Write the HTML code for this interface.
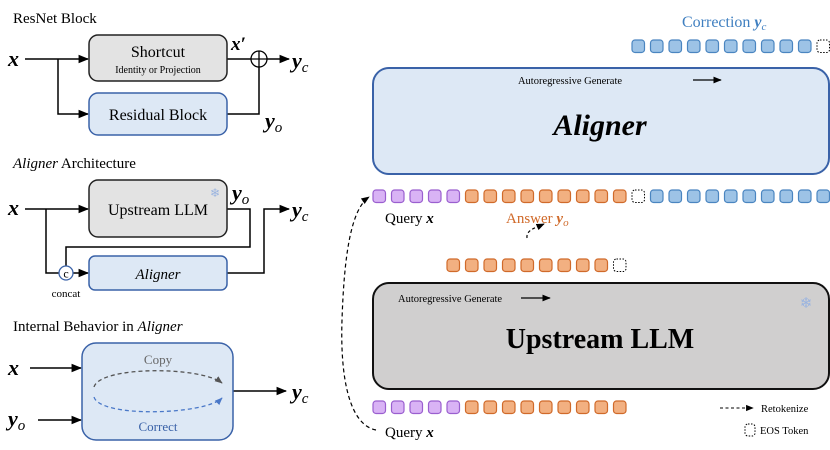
<!DOCTYPE html>
<html><head><meta charset="utf-8"><style>
html,body{margin:0;padding:0;background:#fff;}
svg{display:block;font-family:"Liberation Serif",serif;}
</style></head><body>
<svg id="s" width="830" height="450" viewBox="0 0 830 450" xmlns="http://www.w3.org/2000/svg">
<defs>
<marker id="a" viewBox="0 0 10 10" refX="9" refY="5" markerWidth="7" markerHeight="7" orient="auto"><path d="M0,1 L10,5 L0,9 z" fill="#000"/></marker>
<marker id="ag" viewBox="0 0 10 10" refX="9" refY="5" markerWidth="6" markerHeight="6" orient="auto"><path d="M0,1 L10,5 L0,9 z" fill="#555"/></marker>
<marker id="ab" viewBox="0 0 10 10" refX="9" refY="5" markerWidth="6" markerHeight="6" orient="auto"><path d="M0,1 L10,5 L0,9 z" fill="#4a78c8"/></marker>
</defs>
<g stroke="#000" stroke-width="1.5" fill="none">
<path d="M25,59 H88" marker-end="url(#a)"/>
<path d="M58,59 V114 H88" marker-end="url(#a)"/>
<path d="M227,59 H251"/>
<path d="M267,59 H289" marker-end="url(#a)"/>
<path d="M227,114 H259 V67"/>
<path d="M25,209 H88" marker-end="url(#a)"/>
<path d="M46,209 V273 H59"/>
<path d="M73,273 H88" marker-end="url(#a)"/>
<path d="M227,209 H250 V247 H66 V266"/>
<path d="M227,273 H264 V209 H289" marker-end="url(#a)"/>
<path d="M30,368 H81" marker-end="url(#a)"/>
<path d="M38,420 H81" marker-end="url(#a)"/>
<path d="M233,391 H286" marker-end="url(#a)"/>
</g>
<rect x="89" y="35" width="138" height="46" rx="9" fill="#e3e3e3" stroke="#222" stroke-width="1.5"/>
<rect x="89" y="93" width="138" height="42" rx="9" fill="#dde8f5" stroke="#3a62a8" stroke-width="1.5"/>
<circle cx="259" cy="59" r="8" fill="#fff" stroke="#000" stroke-width="1.3"/>
<path d="M251,59 H267 M259,51 V67" stroke="#000" stroke-width="1.3"/>
<rect x="89" y="180" width="138" height="57" rx="9" fill="#e3e3e3" stroke="#222" stroke-width="1.5"/>
<rect x="89" y="256" width="138" height="34" rx="6" fill="#dde8f5" stroke="#3a62a8" stroke-width="1.5"/>
<circle cx="66" cy="273" r="7" fill="#fff" stroke="#3a62a8" stroke-width="1.3"/>
<text x="66" y="277.5" font-size="12" text-anchor="middle">c</text>
<rect x="82" y="343" width="151" height="97" rx="14" fill="#dde8f5" stroke="#3a62a8" stroke-width="1.5"/>
<path d="M94,387 C100,366 200,366 222,383" stroke="#555" stroke-width="1.3" stroke-dasharray="4,3" fill="none" marker-end="url(#ag)"/>
<path d="M94,397 C100,418 205,415 222,398" stroke="#4a78c8" stroke-width="1.3" stroke-dasharray="4,3" fill="none" marker-end="url(#ab)"/>

<text x="13" y="23" font-size="15">ResNet Block</text>
<text x="8" y="66" font-size="22" font-weight="bold" font-style="italic">x</text>
<text x="158" y="57" font-size="16" text-anchor="middle">Shortcut</text>
<text x="158" y="73" font-size="10" text-anchor="middle">Identity or Projection</text>
<text x="158" y="120" font-size="16" text-anchor="middle">Residual Block</text>
<text x="231" y="50" font-size="19" font-weight="bold" font-style="italic">x′</text>
<text x="292" y="68" font-size="22" font-weight="bold" font-style="italic">y<tspan font-size="15" font-weight="normal" dy="4">c</tspan></text>
<text x="265" y="128" font-size="22" font-weight="bold" font-style="italic">y<tspan font-size="15" font-weight="normal" dy="4">o</tspan></text>

<text x="13" y="168" font-size="15"><tspan font-style="italic">Aligner</tspan> Architecture</text>
<text x="8" y="215" font-size="22" font-weight="bold" font-style="italic">x</text>
<text x="158" y="215" font-size="16" text-anchor="middle">Upstream LLM</text>
<text x="215" y="197" font-size="12" fill="#9ab4e0" text-anchor="middle">❄</text>
<text x="232" y="200" font-size="22" font-weight="bold" font-style="italic">y<tspan font-size="15" font-weight="normal" dy="4">o</tspan></text>
<text x="292" y="217" font-size="22" font-weight="bold" font-style="italic">y<tspan font-size="15" font-weight="normal" dy="4">c</tspan></text>
<text x="158" y="279" font-size="15" font-style="italic" text-anchor="middle">Aligner</text>
<text x="66" y="297" font-size="11" text-anchor="middle">concat</text>

<text x="13" y="331" font-size="15">Internal Behavior in <tspan font-style="italic">Aligner</tspan></text>
<text x="8" y="375" font-size="22" font-weight="bold" font-style="italic">x</text>
<text x="8" y="426" font-size="22" font-weight="bold" font-style="italic">y<tspan font-size="15" font-weight="normal" dy="4">o</tspan></text>
<text x="158" y="364" font-size="13" fill="#666" text-anchor="middle">Copy</text>
<text x="158" y="431" font-size="13" fill="#3a62a8" text-anchor="middle">Correct</text>
<text x="292" y="399" font-size="22" font-weight="bold" font-style="italic">y<tspan font-size="15" font-weight="normal" dy="4">c</tspan></text>

<text x="682" y="27" font-size="16" fill="#3f7fc0">Correction <tspan font-weight="bold" font-style="italic">y</tspan><tspan font-size="11" font-style="italic" dy="3">c</tspan></text>
<rect x="373" y="68" width="456" height="106" rx="16" fill="#dde8f5" stroke="#3a62a8" stroke-width="2"/>
<text x="570" y="84" font-size="10.5" text-anchor="middle">Autoregressive Generate</text>
<path d="M693,80 H721" stroke="#000" stroke-width="1.2" marker-end="url(#a)"/>
<text x="600" y="135" font-size="30" font-weight="bold" font-style="italic" text-anchor="middle">Aligner</text>

<text x="385" y="223" font-size="15">Query <tspan font-weight="bold" font-style="italic">x</tspan></text>
<text x="506" y="223" font-size="15" fill="#d06a2a">Answer <tspan font-weight="bold" font-style="italic">y</tspan><tspan font-size="11" font-style="italic" dy="3">o</tspan></text>
<path d="M527,238 C526,230 535,228 544,224" stroke="#000" stroke-width="1.2" stroke-dasharray="3,2.5" fill="none" marker-end="url(#a)"/>

<rect x="373" y="283" width="456" height="106" rx="16" fill="#d0cfcf" stroke="#111" stroke-width="2"/>
<text x="398" y="302" font-size="10.5">Autoregressive Generate</text>
<path d="M521,298 H550" stroke="#000" stroke-width="1.2" marker-end="url(#a)"/>
<text x="806" y="308" font-size="15" fill="#9ab4e0" text-anchor="middle">❄</text>
<text x="600" y="348" font-size="28" font-weight="bold" text-anchor="middle">Upstream LLM</text>

<text x="385" y="437" font-size="15">Query <tspan font-weight="bold" font-style="italic">x</tspan></text>
<path d="M376,430 C350,425 340,380 342,320 C344,260 350,210 369,197" stroke="#000" stroke-width="1.2" stroke-dasharray="4,3" fill="none" marker-end="url(#a)"/>

<path d="M720,408 H753" stroke="#000" stroke-width="1.1" stroke-dasharray="3,2.5" fill="none" marker-end="url(#a)"/>
<text x="761" y="412" font-size="10.5">Retokenize</text>
<rect x="745" y="424" width="10" height="12" rx="3" fill="none" stroke="#000" stroke-width="1" stroke-dasharray="1.5,1.5"/>
<text x="760" y="434" font-size="10.5">EOS Token</text>
<g id="tok"></g>
</svg>
<script>
var g=document.getElementById('tok');
var C={p:['#d9b3f5','#9a5fcf'],o:['#f2b081','#d06a2a'],b:['#9dc3e6','#4a85c0']};
function t(x,y,k){var r=document.createElementNS('http://www.w3.org/2000/svg','rect');
r.setAttribute('x',x);r.setAttribute('y',y);r.setAttribute('width',12.5);r.setAttribute('height',12.5);r.setAttribute('rx',3);
if(k=='e'){r.setAttribute('fill','#fff');r.setAttribute('stroke','#000');r.setAttribute('stroke-dasharray','1.5,1.5');r.setAttribute('stroke-width',1);}
else{r.setAttribute('fill',C[k][0]);r.setAttribute('stroke',C[k][1]);r.setAttribute('stroke-width',1.2);}
g.appendChild(r);}
function X(i){return 373+18.5*i;}
var i;
for(i=14;i<24;i++)t(X(i),40,'b');t(X(24),40,'e');
for(i=0;i<5;i++)t(X(i),190,'p');for(i=5;i<14;i++)t(X(i),190,'o');t(X(14),190,'e');for(i=15;i<25;i++)t(X(i),190,'b');
for(i=4;i<13;i++)t(X(i),259,'o');t(X(13),259,'e');
for(i=0;i<5;i++)t(X(i),401,'p');for(i=5;i<14;i++)t(X(i),401,'o');
</script>
</body></html>
